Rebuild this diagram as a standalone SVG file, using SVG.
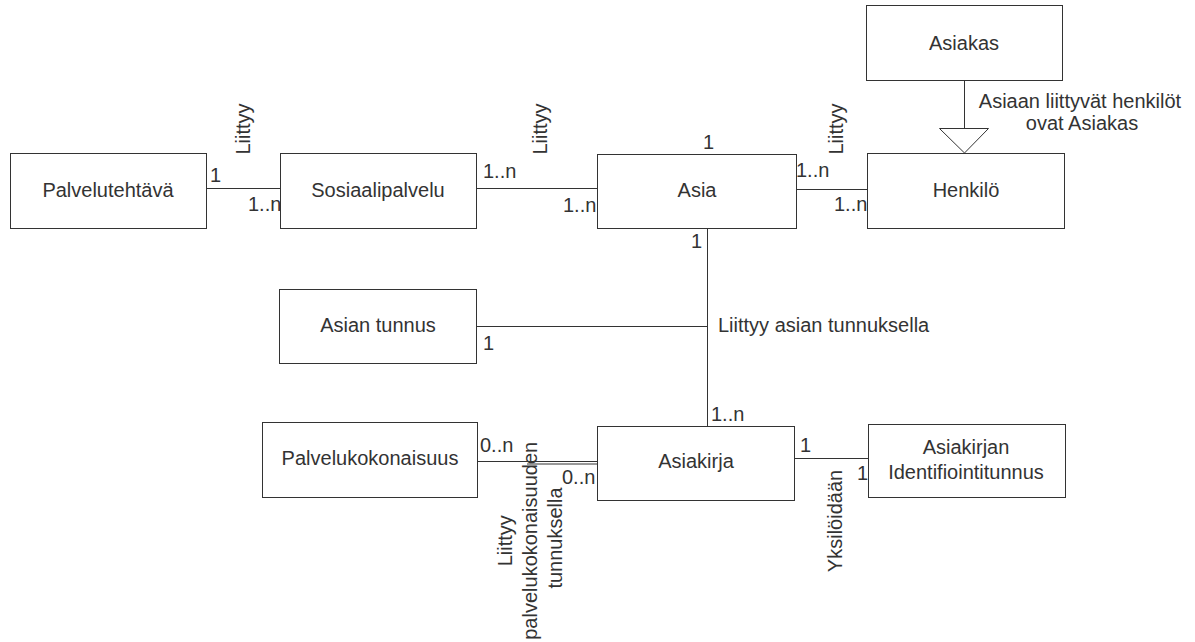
<svg xmlns="http://www.w3.org/2000/svg" width="1195" height="642" viewBox="0 0 1195 642">
  <style>
    .box { fill: #ffffff; stroke: #333333; stroke-width: 1; }
    .edge { fill: none; stroke: #333333; stroke-width: 1; }
    text { font-family: "Liberation Sans", Arial, sans-serif; font-size: 20px; fill: #333333; }
    .c { text-anchor: middle; }
  </style>
  <rect width="1195" height="642" fill="#ffffff"/>

  <!-- connectors -->
  <g id="connectors">
    <line class="edge" x1="206" y1="188.5" x2="280" y2="188.5"/>
    <line class="edge" x1="476" y1="188.5" x2="597" y2="188.5"/>
    <line class="edge" x1="796" y1="189.5" x2="867" y2="189.5"/>
    <line class="edge" x1="964.5" y1="80" x2="964.5" y2="128"/>
    <polygon class="box" points="939.5,128.5 988.5,128.5 964.5,153"/>
    <line class="edge" x1="707.5" y1="228" x2="707.5" y2="434"/>
    <line class="edge" x1="476" y1="326.5" x2="707" y2="326.5"/>
    <line class="edge" x1="477" y1="461.5" x2="597" y2="461.5"/>
    <line class="edge" x1="527" y1="464" x2="597" y2="464"/>
    <line class="edge" x1="794" y1="458.5" x2="868" y2="458.5"/>

    <!-- multiplicities -->
    <text x="210" y="182">1</text>
    <text x="248" y="211">1..n</text>
    <text x="483" y="178">1..n</text>
    <text x="563" y="212">1..n</text>
    <text x="703" y="149">1</text>
    <text x="796" y="177">1..n</text>
    <text x="834" y="211">1..n</text>
    <text x="691" y="248">1</text>
    <text x="483" y="350">1</text>
    <text x="711" y="421">1..n</text>
    <text x="800" y="452">1</text>
    <text x="857" y="480">1</text>
    <text x="480" y="452">0..n</text>
    <text x="562" y="484">0..n</text>

    <!-- relation names -->
    <text class="c" transform="translate(250,129) rotate(-90)">Liittyy</text>
    <text class="c" transform="translate(547,129) rotate(-90)">Liittyy</text>
    <text class="c" transform="translate(843,129) rotate(-90)">Liittyy</text>
    <text x="718" y="332">Liittyy asian tunnuksella</text>
    <text class="c" transform="translate(842,521) rotate(-90)">Yksilöidään</text>
    <text class="c" transform="translate(0,538) rotate(-90)">
      <tspan x="0" y="512">Liittyy</tspan>
      <tspan x="0" y="537">palvelukokonaisuuden</tspan>
      <tspan x="0" y="562">tunnuksella</tspan>
    </text>
    <text class="c" x="1080" y="108">Asiaan liittyvät henkilöt</text>
    <text class="c" x="1082" y="130">ovat Asiakas</text>
  </g>

  <g id="palvelutehtava">
    <rect class="box" x="10.5" y="153.5" width="196" height="75"/>
    <text class="c" x="108" y="197">Palvelutehtävä</text>
  </g>
  <g id="sosiaalipalvelu">
    <rect class="box" x="280.5" y="153.5" width="196" height="75"/>
    <text class="c" x="378" y="197">Sosiaalipalvelu</text>
  </g>
  <g id="asia">
    <rect class="box" x="597.5" y="154.5" width="199" height="74"/>
    <text class="c" x="697" y="197">Asia</text>
  </g>
  <g id="henkilo">
    <rect class="box" x="867.5" y="153.5" width="197" height="75"/>
    <text class="c" x="966" y="197">Henkilö</text>
  </g>
  <g id="asiakas">
    <rect class="box" x="866.5" y="5.5" width="196" height="75"/>
    <text class="c" x="964" y="50">Asiakas</text>
  </g>
  <g id="asian-tunnus">
    <rect class="box" x="279.5" y="289.5" width="197" height="74"/>
    <text class="c" x="378" y="332">Asian tunnus</text>
  </g>
  <g id="palvelukokonaisuus">
    <rect class="box" x="262.5" y="422.5" width="215" height="75"/>
    <text class="c" x="370" y="465">Palvelukokonaisuus</text>
  </g>
  <g id="asiakirja">
    <rect class="box" x="597.5" y="426.5" width="197" height="74"/>
    <text class="c" x="696" y="468">Asiakirja</text>
  </g>
  <g id="asiakirjan-identifiointitunnus">
    <rect class="box" x="868.5" y="424.5" width="197" height="73"/>
    <text class="c" x="966" y="454">Asiakirjan</text>
    <text class="c" x="966" y="479">Identifiointitunnus</text>
  </g>
</svg>
